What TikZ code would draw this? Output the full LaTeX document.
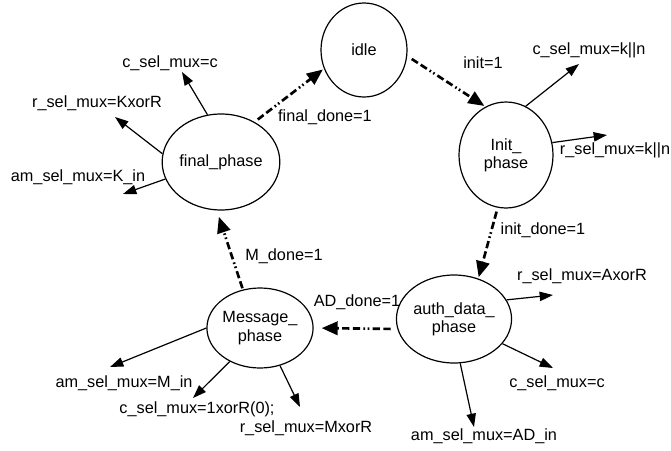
\documentclass[tikz,border=0pt]{standalone}
\usepackage{fontspec}
\setmainfont{Liberation Sans}
\usetikzlibrary{shapes.geometric,arrows.meta}
\begin{document}
\begin{tikzpicture}[x=0.75pt,y=-0.75pt,
  state/.style={draw,ellipse,line width=0.9pt,inner sep=0pt,align=center,font=\fontsize{12.2}{13.7}\selectfont},
  lbl/.style={inner sep=0pt,font=\fontsize{12.2}{13.7}\selectfont},
  outarrow/.style={line width=0.9pt,-{Triangle[length=10pt,width=7pt]}},
  trans/.style={line width=2pt,dash pattern=on 5.5pt off 2.5pt on 5.5pt off 2.5pt on 1.2pt off 2pt on 1.2pt off 2.5pt,-{Triangle[length=12pt,width=10pt]},shorten >=1pt}]
\useasboundingbox (0,0) rectangle (671,450);
% states
\node[state,minimum width=64.5pt,minimum height=70.5pt] (idle) at (364,50) {idle};
\node[state,minimum width=70.5pt,minimum height=79.5pt] (init) at (506,155) {Init\_\\phase};
\node[state,minimum width=69pt,minimum height=72pt] (final) at (221,162) {final\_phase};
\node[state,minimum width=70.5pt,minimum height=66pt] (auth) at (454,319) {auth\_data\_\\phase};
\node[state,minimum width=70.5pt,minimum height=60pt] (msg) at (260,328) {Message\_\\phase};
% output labels
\node[lbl] (fc) at (170,63) {c\_sel\_mux=c};
\node[lbl] (fr) at (97,103) {r\_sel\_mux=KxorR};
\node[lbl] (fa) at (78,177) {am\_sel\_mux=K\_in};
\node[lbl] (ic) at (589,50) {c\_sel\_mux=k||n};
\node[lbl] (ir) at (615,150) {r\_sel\_mux=k||n};
\node[lbl] (ar) at (582,276) {r\_sel\_mux=AxorR};
\node[lbl] (ac) at (557,383) {c\_sel\_mux=c};
\node[lbl] (aa) at (484,436) {am\_sel\_mux=AD\_in};
\node[lbl] (ma) at (124,383) {am\_sel\_mux=M\_in};
\node[lbl] (mc) at (197,409) {c\_sel\_mux=1xorR(0);};
\node[lbl] (mr) at (306,428) {r\_sel\_mux=MxorR};
% transition labels
\node[lbl] (t1) at (325,117) {final\_done=1};
\node[lbl] (t2) at (483,63) {init=1};
\node[lbl] (t3) at (543,230) {init\_done=1};
\node[lbl] (t4) at (357,302) {AD\_done=1};
\node[lbl] (t5) at (284,256) {M\_done=1};
% arrow tips
\coordinate (pfc) at (182,72);
\coordinate (pfr) at (115,117);
\coordinate (pfa) at (123,194);
\coordinate (pic) at (579,64);
\coordinate (pir) at (607,135);
\coordinate (par) at (553,295);
\coordinate (pac) at (553,368);
\coordinate (paa) at (474,427);
\coordinate (pma) at (110,367);
\coordinate (pmc) at (193,398);
\coordinate (pmr) at (300,407);
% outputs
\draw[outarrow] (final.106) -- (pfc);
\draw[outarrow] (final.172) -- (pfr);
\draw[outarrow] (final.197) -- (pfa);
\draw[outarrow] (init.68) -- (pic);
\draw[outarrow] (init.15) -- (pir);
\draw[outarrow] (auth.20) -- (par);
\draw[outarrow] (auth.-27) -- (pac);
\draw[outarrow] (auth.-82) -- (paa);
\draw[outarrow] (msg.180) -- (pma);
\draw[outarrow] (msg.228) -- (pmc);
\draw[outarrow] (msg.-62) -- (pmr);
% transitions
\draw[trans,shorten <=3pt] (final.50) -- (idle.205);
\draw[trans,shorten <=4pt] (idle.-8) -- (init.113);
\draw[trans,shorten <=3pt] (init.-99) -- (auth.59);
\draw[trans,shorten <=5pt,shorten >=6pt] (auth.190) -- (msg.0);
\draw[trans,shorten <=1pt,shorten >=5pt] (msg.114) -- (final.265);
\end{tikzpicture}
\end{document}
